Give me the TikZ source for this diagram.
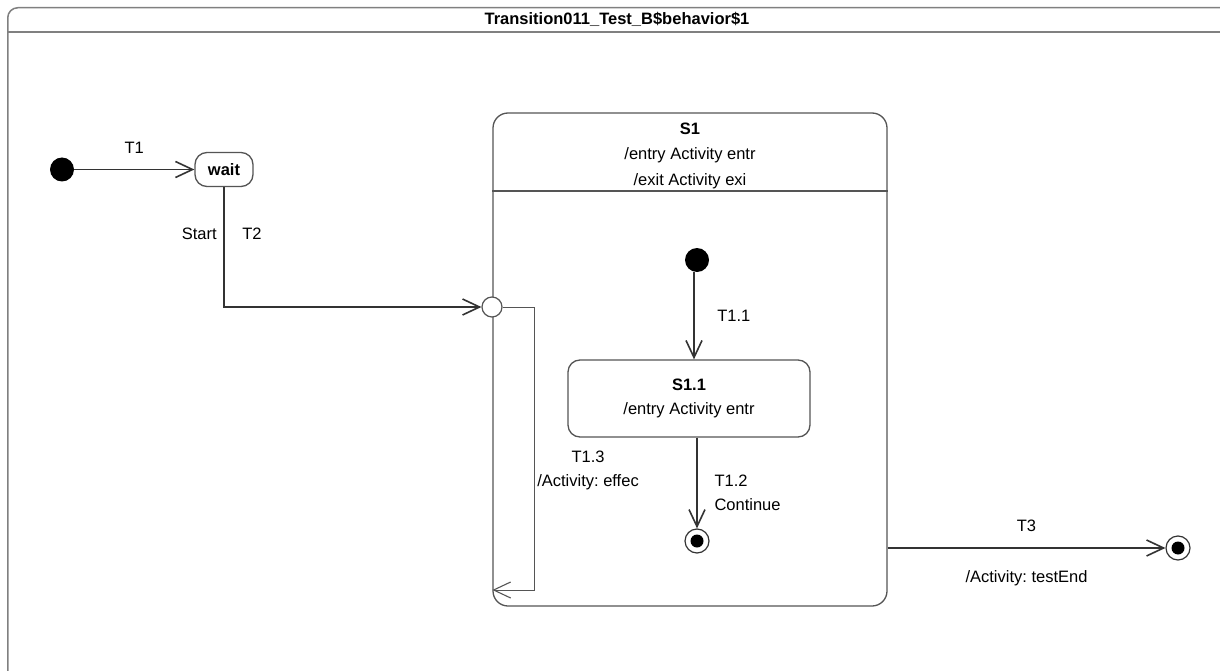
\documentclass[tikz,border=0pt]{standalone}
\usepackage{fontspec}
\setmainfont{Liberation Sans}
\usepackage{xcolor}
\usetikzlibrary{positioning, arrows.meta, calc}

\definecolor{linegray}{HTML}{333333}
\definecolor{boxgray}{HTML}{555555}
\frenchspacing

\begin{document}
\begin{tikzpicture}[
    x=1pt, y=-1pt,
    font=\fontsize{16.5}{24}\selectfont,
    state/.style={draw=boxgray, line width=1.3pt, rectangle, rounded corners=12pt, align=center, fill=white},
    initial/.style={circle, fill=black, inner sep=0pt, minimum size=24pt},
    final/.style={circle, draw=linegray, line width=1.2pt, fill=white, inner sep=0pt, minimum size=24pt,
        path picture={\fill[black] (path picture bounding box.center) circle (6.5pt);}},
    entrypt/.style={circle, draw=boxgray, line width=1.2pt, fill=white, inner sep=0pt, minimum size=20pt},
    trans/.style={draw=linegray, line width=1.9pt, -{Straight Barb[length=17pt, width=16pt, line width=1.6pt]}},
    thintrans/.style={draw=boxgray, line width=1pt, -{Straight Barb[length=17pt, width=16pt, line width=1.1pt]}}
]
    \useasboundingbox (0,0) rectangle (1220,671);
    \fill[white] (0,0) rectangle (1220,671);

    % Frame
    \node[draw=gray, line width=1.5pt, rectangle, rounded corners=10pt, minimum width=1230pt, minimum height=680pt, anchor=north west] (frame) at (7,7) {};
    \node[font=\bfseries\fontsize{16.5}{18}\selectfont] (title) at (617,19) {Transition011\_Test\_B\$behavior\$1};
    \draw[gray, line width=1.5pt] (frame.west |- 0,32) -- (frame.east |- 0,32);

    % Composite state
    \node[state, rounded corners=15pt, minimum width=394pt, minimum height=493pt] (S1) at (690,359.5) {};
    \node[align=center, anchor=north, font=\fontsize{16.5}{25.5}\selectfont] (S1head) at (690,119) {\textbf{S1}\\/entry Activity entr\\/exit Activity exi};
    \draw[boxgray, line width=1.3pt] (S1.west |- 0,191) -- (S1.east |- 0,191);

    % States
    \node[initial] (init) at (62,169.5) {};
    \node[state, minimum width=58pt, minimum height=34pt, font=\bfseries\fontsize{16.5}{18}\selectfont] (wait) at (224,169.5) {wait};
    \node[entrypt] (entry) at (492,307) {};
    \node[initial] (init2) at (697,260) {};
    \node[state, minimum width=242pt, minimum height=77pt] (S11) at (689,398.5) {\textbf{S1.1}\\/entry Activity entr};
    \node[final] (final2) at (697,541) {};
    \node[final] (final3) at (1178,548) {};
    \coordinate (t13turn) at (534,590);
    \coordinate (t13end) at (S1.west |- t13turn);

    % Transitions
    \draw[trans] (init) -- node[midway, above=12pt] {T1} (wait);
    \draw[trans] (wait.south) -- node[pos=0.39, left=3pt] {Start} node[pos=0.39, right=14pt] {T2} (wait.south |- entry) -- (entry.west);
    \draw[trans] (init2.south -| 694,0) -- node[midway, right=19pt] {T1.1} (S11.north -| 694,0);
    \draw[trans] (final2 |- S11.south) -- (final2.north);
    \node[align=left, anchor=west] (t12label) at (711,493) {T1.2\\Continue};
    \draw[thintrans] (entry.east) -| (t13turn) -- (t13end);
    \node[align=center] (t13label) at (588,470) {T1.3\\/Activity: effec};
    \draw[trans] (S1.east |- final3) -- node[midway, above=12pt] {T3} node[midway, below=18pt] {/Activity: testEnd} (final3);
\end{tikzpicture}
\end{document}
